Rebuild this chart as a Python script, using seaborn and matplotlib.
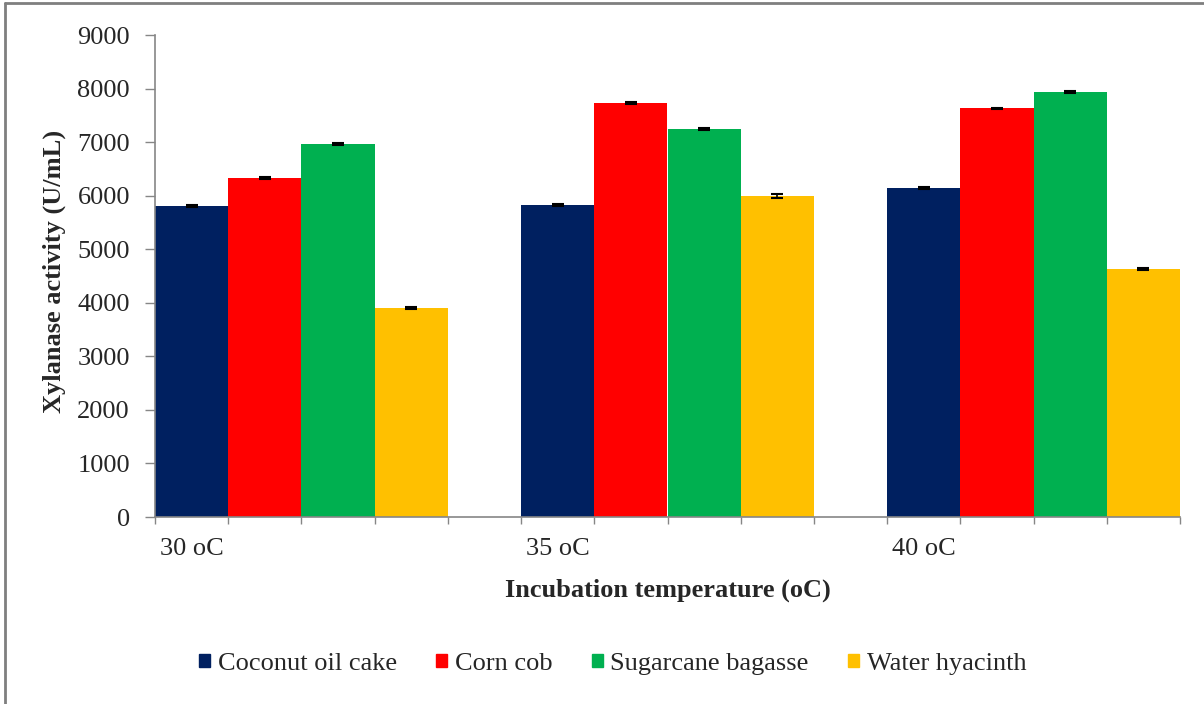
import numpy as np
import pandas as pd
import matplotlib
matplotlib.use("Agg")
import matplotlib.pyplot as plt
from matplotlib.lines import Line2D
import seaborn as sns

# data
temperatures = ["30 oC", "35 oC", "40 oC"]
substrates = ["Coconut oil cake", "Corn cob", "Sugarcane bagasse", "Water hyacinth"]
coconut_oil_cake = [5800, 5825, 6145]
corn_cob = [6330, 7730, 7635]
sugarcane_bagasse = [6965, 7245, 7935]
water_hyacinth = [3900, 5995, 4630]
coconut_err = [20, 15, 15]
corn_err = [15, 15, 10]
bagasse_err = [15, 10, 15]
hyacinth_err = [20, 30, 25]

colors = ["#002060", "#FF0000", "#00B050", "#FFC000"]

values = [coconut_oil_cake, corn_cob, sugarcane_bagasse, water_hyacinth]
errors = [coconut_err, corn_err, bagasse_err, hyacinth_err]

rows = []
for sub, vals in zip(substrates, values):
    for t, v in zip(temperatures, vals):
        rows.append({"Temperature": t, "Substrate": sub, "Activity": v})
df = pd.DataFrame(rows)

sns.set_style("white")
plt.rcParams["font.family"] = ["Liberation Serif", "DejaVu Serif"]
fs = 19

fig = plt.figure(figsize=(12.04, 7.04), dpi=100)
ax = fig.add_axes([155 / 1204, 1 - 517 / 704, 1025 / 1204, 482 / 704])

width = 0.8
sns.barplot(data=df, x="Temperature", y="Activity", hue="Substrate",
            order=temperatures, hue_order=substrates, palette=colors,
            width=width, gap=0, errorbar=None, saturation=1,
            linewidth=0, ax=ax)

# error bars on top of each bar
for cont, errs in zip(ax.containers, errors):
    xs = [p.get_x() + p.get_width() / 2 for p in cont.patches]
    ys = [p.get_height() for p in cont.patches]
    ax.errorbar(xs, ys, yerr=errs, fmt="none", ecolor="black",
                elinewidth=1.2, capsize=4.5, capthick=1.5, zorder=5)

ax.get_legend().remove()

n = len(temperatures)
nb = len(substrates)
bw = width / nb
left = -width / 2
right = n - 1 + width / 2
ax.set_xlim(left, right)
ax.set_ylim(0, 9000)
ax.set_yticks(np.arange(0, 9001, 1000))

# category axis: tick marks at every bar edge, label under first bar of group
edges = np.round(np.arange(left, right + 1e-9, bw), 4)
ax.set_xticks(edges)
ax.set_xticklabels([])
ax.set_xticks([i - width / 2 + bw / 2 for i in range(n)], minor=True)
ax.set_xticklabels(temperatures, minor=True)
ax.tick_params(axis="x", which="major", length=5, width=1, color="#868686",
               direction="out", bottom=True)
ax.tick_params(axis="x", which="minor", length=0, pad=15, labelsize=fs)
ax.tick_params(axis="y", length=7, width=1, color="#868686", direction="out",
               left=True, pad=11, labelsize=fs)

for s in ["top", "right"]:
    ax.spines[s].set_visible(False)
for s in ["left", "bottom"]:
    ax.spines[s].set_color("#868686")
    ax.spines[s].set_linewidth(1.2)

ax.set_xlabel("Incubation temperature (oC)", fontsize=fs, fontweight="bold")
ax.set_ylabel("Xylanase activity (U/mL)", fontsize=fs, fontweight="bold")
ax.xaxis.set_label_coords(0.5005, -0.127)
ax.yaxis.set_label_coords(-0.087, 0.51)

handles = [plt.Rectangle((0, 0), 1, 1, color=c) for c in colors]
fig.legend(handles, substrates, loc="center", bbox_to_anchor=(0.509, 0.057),
           ncol=4, frameon=False, fontsize=fs, handlelength=0.4,
           handleheight=0.4, handletextpad=0.3, columnspacing=1.5)

# chart-area border (top and left edges visible in the reference)
fig.add_artist(Line2D([5 / 1204, 1], [1 - 3 / 704, 1 - 3 / 704],
                      transform=fig.transFigure, color="#7f7f7f", lw=2))
fig.add_artist(Line2D([5 / 1204, 5 / 1204], [0, 1 - 3 / 704],
                      transform=fig.transFigure, color="#7f7f7f", lw=2))

fig.savefig("out.png", dpi=100)
